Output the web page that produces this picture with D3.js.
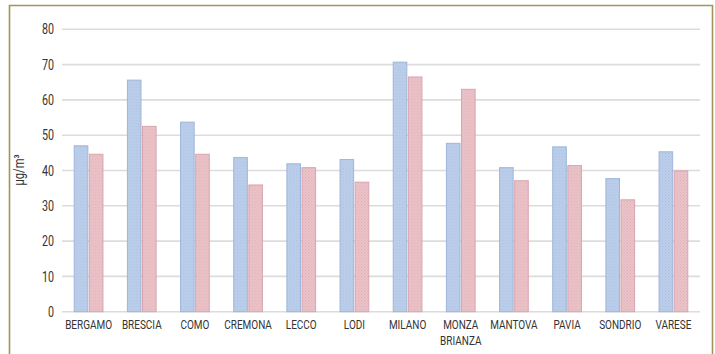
<!DOCTYPE html>
<html>
<head>
<meta charset="utf-8">
<script src="https://cdn.jsdelivr.net/npm/d3@7"></script>
<style>
  html, body { margin: 0; padding: 0; background: #fff; }
  svg { display: block; }
  text { font-family: Roboto, "DejaVu Sans Condensed", sans-serif; fill: #333; }
</style>
</head>
<body>
<svg id="chart" width="715" height="354"></svg>
<script>
// Province names (x axis)
const provinces = ["BERGAMO", "BRESCIA", "COMO", "CREMONA", "LECCO", "LODI",
                   "MILANO", "MONZA BRIANZA", "MANTOVA", "PAVIA", "SONDRIO", "VARESE"];
// Concentration series, µg/m³
const seriesA = [47.0, 65.6, 53.7, 43.7, 41.9, 43.1, 70.7, 47.7, 40.8, 46.7, 37.7, 45.3];
const seriesB = [44.6, 52.5, 44.6, 35.9, 40.8, 36.7, 66.5, 63.0, 37.1, 41.4, 31.7, 39.9];
// Y axis ticks
const yTicks = [0, 10, 20, 30, 40, 50, 60, 70, 80];
const yLabel = "µg/m³";

const svg = d3.select("#chart");
const W = 715, H = 354;
const m = { left: 62, right: 15, top: 29.3, bottom: 42.3 };
const narrow = 0.74; // horizontal squeeze for a condensed look

// frame
svg.append("path")
  .attr("d", `M9.5,${H} V5.5 H712.5 V${H}`)
  .attr("fill", "none").attr("stroke", "#a39558").attr("stroke-width", 1.6);

const x = d3.scaleBand().domain(provinces).range([m.left, W - m.right]).paddingInner(0.46).paddingOuter(0.23);
const y = d3.scaleLinear().domain([0, 80]).range([H - m.bottom, m.top]);

// dotted fill patterns
const defs = svg.append("defs");
function pattern(id, base, dot) {
  const p = defs.append("pattern").attr("id", id).attr("width", 3).attr("height", 3)
    .attr("patternUnits", "userSpaceOnUse");
  p.append("rect").attr("width", 3).attr("height", 3).attr("fill", base);
  p.append("rect").attr("x", 0).attr("y", 0).attr("width", 1).attr("height", 1).attr("fill", dot);
  p.append("rect").attr("x", 1.5).attr("y", 1.5).attr("width", 1).attr("height", 1).attr("fill", dot);
}
pattern("pA", "#bccfea", "#abc0e2");
pattern("pB", "#ebc3c8", "#ddb0b7");

// grid
svg.append("g").selectAll("line").data(yTicks).join("line")
  .attr("x1", m.left).attr("x2", 700)
  .attr("y1", d => y(d)).attr("y2", d => y(d))
  .attr("stroke", "#dcdcdc").attr("stroke-width", 1.6);

// y axis
const ya = svg.append("g").attr("transform", `translate(${m.left},0)`)
  .call(d3.axisLeft(y).tickValues(yTicks).tickSize(0).tickPadding(8));
ya.select(".domain").remove();
ya.selectAll("text").attr("font-size", 14.5).attr("fill", "#333")
  .attr("font-family", null)
  .attr("transform", `scale(${narrow},1)`)
  .attr("x", -8 / narrow);

svg.append("text")
  .attr("transform", `translate(24,170) rotate(-90) scale(${narrow + 0.06},1)`)
  .attr("text-anchor", "middle").attr("font-size", 14).text(yLabel);

// bars
const inner = d3.scaleBand().domain(["a", "b"]).range([0, x.bandwidth()]).paddingInner(0.1);
const groups = svg.append("g").selectAll("g").data(provinces).join("g")
  .attr("transform", d => `translate(${x(d)},0)`);
groups.append("rect")
  .attr("x", inner("a")).attr("width", inner.bandwidth())
  .attr("y", (d, i) => y(seriesA[i])).attr("height", (d, i) => y(0) - y(seriesA[i]))
  .attr("fill", "url(#pA)").attr("stroke", "#9fb5da").attr("stroke-width", 1);
groups.append("rect")
  .attr("x", inner("b")).attr("width", inner.bandwidth())
  .attr("y", (d, i) => y(seriesB[i])).attr("height", (d, i) => y(0) - y(seriesB[i]))
  .attr("fill", "url(#pB)").attr("stroke", "#d9a5ad").attr("stroke-width", 1);

// x axis labels
const xa = svg.append("g").attr("transform", `translate(0,${y(0)})`)
  .call(d3.axisBottom(x).tickSize(0).tickPadding(8));
xa.select(".domain").remove();
xa.selectAll("text").attr("font-size", 13.5).attr("fill", "#333")
  .attr("font-family", null)
  .attr("transform", `scale(${narrow},1)`)
  .each(function(d) {
    const words = d.split(" ");
    if (words.length > 1) {
      const t = d3.select(this).text(null);
      words.forEach((w, i) => t.append("tspan").attr("x", 0).attr("dy", i === 0 ? "0.71em" : "1.15em").text(w));
      t.attr("dy", null);
    }
  });
</script>
</body>
</html>
